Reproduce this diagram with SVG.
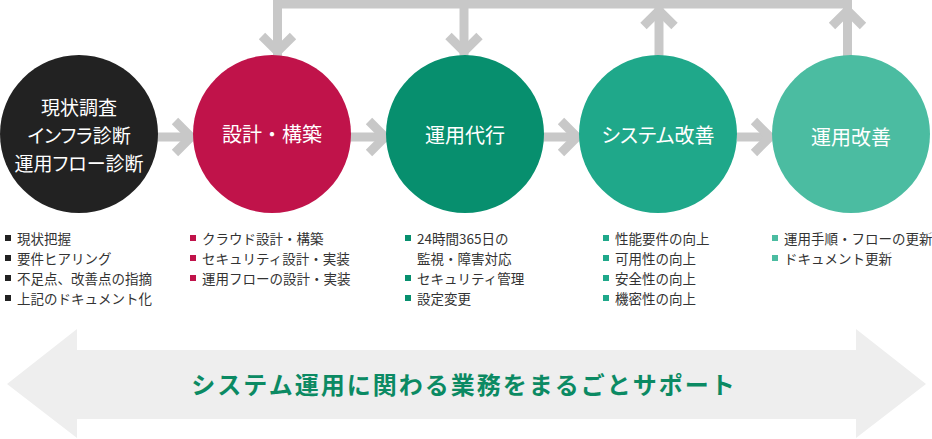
<svg xmlns="http://www.w3.org/2000/svg" width="932" height="439" viewBox="0 0 932 439">
<style>
.c{stroke:#c8c8c8;stroke-width:9;fill:none;stroke-linejoin:miter}
.ct{font-family:"Noto Sans CJK JP","Noto Sans",sans-serif;fill:#fff;text-anchor:middle;dominant-baseline:central;font-feature-settings:"palt"}
.li{font-family:"Noto Sans CJK JP","Noto Sans",sans-serif;fill:#333;font-size:13.5px;dominant-baseline:central}
.big{font-family:"Noto Sans CJK JP","Noto Sans",sans-serif;fill:#0b8a63;font-size:24px;font-weight:bold;text-anchor:middle;dominant-baseline:central;letter-spacing:2px}
</style>
<rect width="932" height="439" fill="#fff"/>
<g id="support-arrow">
<polygon points="7,384 77,329 77,350 856,350 856,329 926,384 856,438 856,419 77,419 77,438" fill="#eeeeee"/>
<text class="big" x="464" y="383">システム運用に関わる業務をまるごとサポート</text>
</g>
<g id="connectors">
<line class="c" x1="157" y1="137" x2="190" y2="137" stroke-width="10"/>
<polyline class="c" points="175,121 191,137 175,153"/>
<line class="c" x1="350" y1="137" x2="384" y2="137" stroke-width="10"/>
<polyline class="c" points="369,121 385,137 369,153"/>
<line class="c" x1="543" y1="137" x2="576" y2="137" stroke-width="10"/>
<polyline class="c" points="561,121 577,137 561,153"/>
<line class="c" x1="737" y1="137" x2="769" y2="137" stroke-width="10"/>
<polyline class="c" points="754,121 770,137 754,153"/>
<polyline class="c" points="277.5,56 277.5,4 847.5,4 847.5,56"/>
<line class="c" x1="464" y1="4" x2="464" y2="56"/>
<line class="c" x1="659" y1="4" x2="659" y2="56"/>
<polyline class="c" points="262,36 277.5,51.5 293,36"/>
<polyline class="c" points="448.5,36 464,51.5 479.5,36"/>
<polyline class="c" points="643.5,26 659,10.5 674.5,26"/>
<polyline class="c" points="832,26 847.5,10.5 863,26"/>
</g>
<g id="node-genjou">
<circle cx="79" cy="134" r="79" fill="#222222"/>
<text class="ct" x="79" y="106" font-size="19">現状調査</text>
<text class="ct" x="79" y="134" font-size="19">インフラ診断</text>
<text class="ct" x="79" y="162" font-size="19">運用フロー診断</text>
</g>
<g id="node-sekkei">
<circle cx="272" cy="134" r="79" fill="#c0134a"/>
<text class="ct" x="272" y="133" font-size="20" style="font-feature-settings:normal">設計・構築</text>
</g>
<g id="node-unyou-daikou">
<circle cx="465" cy="134" r="79" fill="#078f6e"/>
<text class="ct" x="465" y="134" font-size="20">運用代行</text>
</g>
<g id="node-system-kaizen">
<circle cx="658" cy="134" r="79" fill="#1fa88a"/>
<text class="ct" x="658" y="134" font-size="20">システム改善</text>
</g>
<g id="node-unyou-kaizen">
<circle cx="851" cy="134" r="79" fill="#4bbca1"/>
<text class="ct" x="851" y="136" font-size="20">運用改善</text>
</g>
<g id="list-genjou">
<g fill="#222"><rect x="5" y="235" width="6" height="6"/><rect x="5" y="255" width="6" height="6"/><rect x="5" y="275" width="6" height="6"/><rect x="5" y="295" width="6" height="6"/></g>
<text class="li" x="17" y="238">現状把握</text>
<text class="li" x="17" y="258">要件ヒアリング</text>
<text class="li" x="17" y="278">不足点、改善点の指摘</text>
<text class="li" x="17" y="298">上記のドキュメント化</text>
</g>
<g id="list-sekkei">
<g fill="#c0134a"><rect x="190" y="235" width="6" height="6"/><rect x="190" y="255" width="6" height="6"/><rect x="190" y="275" width="6" height="6"/></g>
<text class="li" x="202" y="238">クラウド設計・構築</text>
<text class="li" x="202" y="258">セキュリティ設計・実装</text>
<text class="li" x="202" y="278">運用フローの設計・実装</text>
</g>
<g id="list-unyou-daikou">
<g fill="#078f6e"><rect x="405" y="235" width="6" height="6"/><rect x="405" y="275" width="6" height="6"/><rect x="405" y="295" width="6" height="6"/></g>
<text class="li" x="417" y="238">24時間365日の</text>
<text class="li" x="417" y="258">監視・障害対応</text>
<text class="li" x="417" y="278">セキュリティ管理</text>
<text class="li" x="417" y="298">設定変更</text>
</g>
<g id="list-system-kaizen">
<g fill="#1fa88a"><rect x="603" y="235" width="6" height="6"/><rect x="603" y="255" width="6" height="6"/><rect x="603" y="275" width="6" height="6"/><rect x="603" y="295" width="6" height="6"/></g>
<text class="li" x="615" y="238">性能要件の向上</text>
<text class="li" x="615" y="258">可用性の向上</text>
<text class="li" x="615" y="278">安全性の向上</text>
<text class="li" x="615" y="298">機密性の向上</text>
</g>
<g id="list-unyou-kaizen">
<g fill="#4bbca1"><rect x="772" y="235" width="6" height="6"/><rect x="772" y="255" width="6" height="6"/></g>
<text class="li" x="784" y="238">運用手順・フローの更新</text>
<text class="li" x="784" y="258">ドキュメント更新</text>
</g>
</svg>
